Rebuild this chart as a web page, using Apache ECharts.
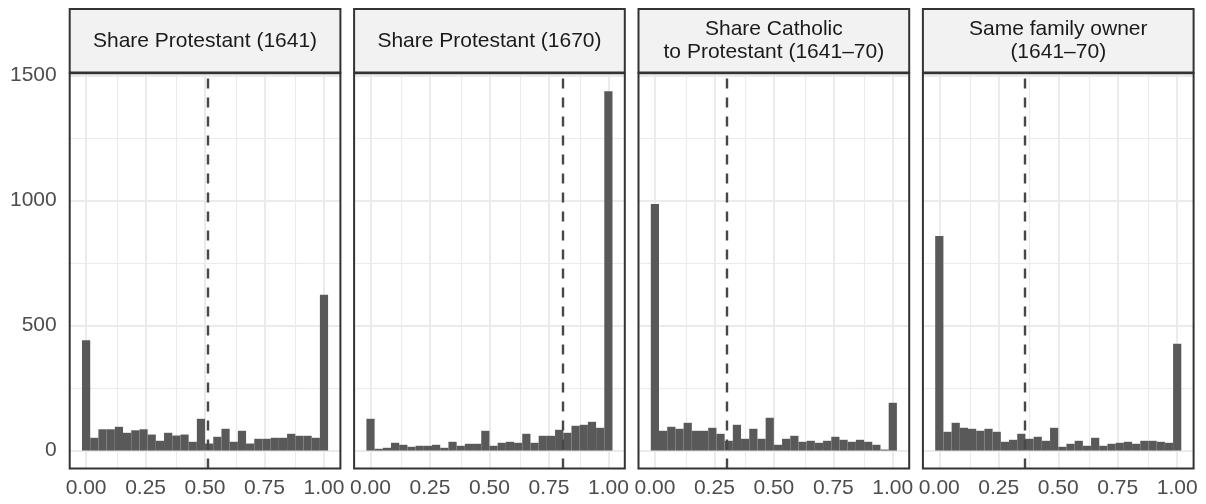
<!DOCTYPE html>
<html>
<head>
<meta charset="utf-8">
<script src="https://cdn.jsdelivr.net/npm/echarts@6/dist/echarts.min.js"></script>
<style>
  html, body { margin: 0; padding: 0; background: #ffffff; }
  #chart { width: 1206px; height: 504px; }
</style>
</head>
<body>
<div id="chart"></div>
<script>
// ===== data =====
const panelTitles = [
  "Share Protestant (1641)",
  "Share Protestant (1670)",
  "Share Catholic\nto Protestant (1641–70)",
  "Same family owner\n(1641–70)"
];
const countsProt1641 = [441, 51, 85, 85, 95, 71, 81, 85, 64, 39, 71, 60, 64, 35, 127, 28, 55, 87, 35, 79, 28, 47, 47, 51, 51, 67, 59, 59, 51, 623];
const countsProt1670 = [127, 7, 11, 31, 23, 15, 19, 19, 23, 11, 35, 19, 27, 27, 79, 19, 31, 35, 31, 67, 31, 59, 59, 83, 71, 99, 103, 115, 91, 1437];
const countsCathToProt = [986, 79, 95, 87, 111, 79, 79, 91, 67, 39, 103, 47, 87, 47, 131, 23, 47, 59, 35, 39, 31, 39, 55, 43, 35, 43, 35, 23, 4, 191];
const countsSameOwner = [858, 75, 111, 91, 87, 79, 87, 75, 35, 43, 67, 47, 55, 39, 91, 15, 27, 39, 19, 51, 19, 27, 31, 35, 27, 39, 39, 35, 31, 427];
const cutoffs = [0.51, 0.809, 0.301, 0.362];

const xTicks = [0, 0.25, 0.5, 0.75, 1];
const xMinorTicks = [0.125, 0.375, 0.625, 0.875];
const yTicks = [0, 500, 1000, 1500];
const yMinorTicks = [250, 750, 1250];

const allCounts = [countsProt1641, countsProt1670, countsCathToProt, countsSameOwner];

// ===== layout =====
const PANEL_LEFT = 69.7;
const PANEL_STEP = 284.4;
const PANEL_W = 270.7;
const PANEL_TOP = 73.3;
const PANEL_H = 395.2;
const STRIP_TOP = 9;
const FONT = "'Liberation Sans', Arial, sans-serif";

// ggplot 默认 30 个 bin，中心落在 0 和 1
const binWidth = 1 / (countsProt1641.length - 1);
const X_MIN = -binWidth / 2 - (1 + binWidth) * 0.05;
const X_MAX = 1 + binWidth / 2 + (1 + binWidth) * 0.05;
const yTop = Math.max(...allCounts.map((c) => Math.max(...c)));
const Y_MIN = -yTop * 0.05;
const Y_MAX = yTop * 1.05;

const chart = echarts.init(document.getElementById("chart"), null, { renderer: "canvas" });

const grids = [];
const xAxes = [];
const yAxes = [];
const series = [];
const graphics = [];

const gridLineData = () => [
  ...xTicks.map((v) => ({ xAxis: v, lineStyle: { width: 2 } })),
  ...xMinorTicks.map((v) => ({ xAxis: v, lineStyle: { width: 1.1 } })),
  ...yTicks.map((v) => ({ yAxis: v, lineStyle: { width: 2 } })),
  ...yMinorTicks.map((v) => ({ yAxis: v, lineStyle: { width: 1.1 } }))
];

allCounts.forEach((counts, i) => {
  const left = PANEL_LEFT + i * PANEL_STEP;
  grids.push({
    left: left,
    top: PANEL_TOP,
    width: PANEL_W,
    height: PANEL_H,
    show: true,
    borderColor: "#333333",
    borderWidth: 2,
    backgroundColor: "transparent",
    containLabel: false,
    outerBoundsMode: "none",
    z: 5
  });
  xAxes.push({
    type: "value",
    gridIndex: i,
    min: X_MIN,
    max: X_MAX,
    axisLine: { show: false },
    splitLine: { show: false },
    axisTick: {
      show: true,
      customValues: xTicks,
      length: 6,
      lineStyle: { color: "#333333", width: 2 }
    },
    axisLabel: {
      customValues: xTicks,
      formatter: (v) => v.toFixed(2),
      color: "#4d4d4d",
      fontFamily: FONT,
      fontSize: 21,
      margin: 9
    }
  });
  yAxes.push({
    type: "value",
    gridIndex: i,
    min: Y_MIN,
    max: Y_MAX,
    axisLine: { show: false },
    splitLine: { show: false },
    axisTick: {
      show: i === 0,
      customValues: yTicks,
      length: 6,
      lineStyle: { color: "#333333", width: 2 }
    },
    axisLabel: {
      show: i === 0,
      customValues: yTicks,
      formatter: (v) => String(v),
      color: "#4d4d4d",
      fontFamily: FONT,
      fontSize: 21,
      margin: 13
    }
  });

  // 背景网格线
  series.push({
    type: "line",
    xAxisIndex: i,
    yAxisIndex: i,
    data: [],
    z: 1,
    silent: true,
    markLine: {
      z: 1,
      silent: true,
      symbol: ["none", "none"],
      label: { show: false },
      animation: false,
      lineStyle: { color: "#ebebeb", type: "solid" },
      data: gridLineData()
    }
  });

  // 直方图
  series.push({
    type: "custom",
    xAxisIndex: i,
    yAxisIndex: i,
    z: 2,
    silent: true,
    data: counts.map((c, k) => [k * binWidth - binWidth / 2, k * binWidth + binWidth / 2, c]),
    encode: { x: [0, 1], y: 2 },
    renderItem: (params, api) => {
      const p0 = api.coord([api.value(0), 0]);
      const p1 = api.coord([api.value(1), api.value(2)]);
      return {
        type: "rect",
        shape: { x: p0[0], y: p1[1], width: p1[0] - p0[0], height: p0[1] - p1[1] },
        style: { fill: "#595959" }
      };
    }
  });

  // 阈值虚线
  series.push({
    type: "line",
    xAxisIndex: i,
    yAxisIndex: i,
    data: [],
    z: 3,
    silent: true,
    markLine: {
      z: 3,
      silent: true,
      symbol: ["none", "none"],
      label: { show: false },
      animation: false,
      lineStyle: { color: "#474747", type: [10, 9], width: 2.4 },
      data: [{ xAxis: cutoffs[i] }]
    }
  });

  // 分面标题条
  graphics.push({
    type: "rect",
    shape: { x: left, y: STRIP_TOP, width: PANEL_W, height: PANEL_TOP - STRIP_TOP - 0.8 },
    style: { fill: "#f2f2f2", stroke: "#333333", lineWidth: 2 },
    z: 10
  });
  graphics.push({
    type: "text",
    x: left + PANEL_W / 2,
    y: 41,
    style: {
      text: panelTitles[i],
      fill: "#1a1a1a",
      font: "21px " + FONT,
      lineHeight: 23,
      align: "center",
      verticalAlign: "middle"
    },
    z: 11
  });
});

chart.setOption({
  animation: false,
  backgroundColor: "#ffffff",
  grid: grids,
  xAxis: xAxes,
  yAxis: yAxes,
  series: series,
  graphic: graphics
});
</script>
</body>
</html>
